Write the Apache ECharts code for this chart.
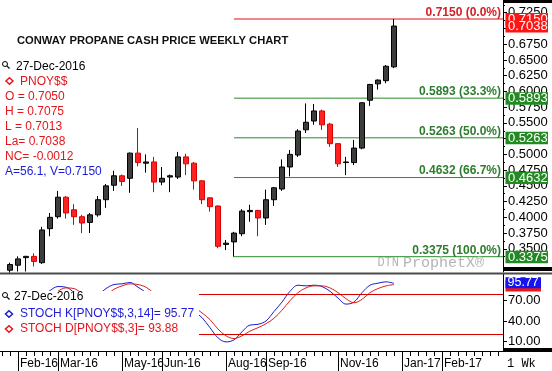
<!DOCTYPE html>
<html><head><meta charset="utf-8">
<script src="https://cdn.jsdelivr.net/npm/echarts@6/dist/echarts.min.js"></script>
<style>html,body{margin:0;padding:0;background:#fff}#c{width:552px;height:371px}</style>
</head><body><div id="c"></div>
<script>
// ---------- data ----------
const weeks = ['2016-01-25','2016-02-01','2016-02-08','2016-02-15','2016-02-22','2016-02-29','2016-03-07','2016-03-14','2016-03-21','2016-03-28','2016-04-04','2016-04-11','2016-04-18','2016-04-25','2016-05-02','2016-05-09','2016-05-16','2016-05-23','2016-05-30','2016-06-06','2016-06-13','2016-06-20','2016-06-27','2016-07-04','2016-07-11','2016-07-18','2016-07-25','2016-08-01','2016-08-08','2016-08-15','2016-08-22','2016-08-29','2016-09-05','2016-09-12','2016-09-19','2016-09-26','2016-10-03','2016-10-10','2016-10-17','2016-10-24','2016-10-31','2016-11-07','2016-11-14','2016-11-21','2016-11-28','2016-12-05','2016-12-12','2016-12-19','2016-12-26'];
const opens  = [0.316,0.324,0.336,0.338,0.328,0.382,0.401,0.432,0.412,0.401,0.392,0.404,0.428,0.451,0.466,0.462,0.502,0.486,0.488,0.456,0.464,0.464,0.496,0.486,0.458,0.431,0.418,0.357,0.361,0.374,0.409,0.411,0.399,0.428,0.445,0.480,0.499,0.539,0.553,0.569,0.548,0.517,0.487,0.487,0.510,0.586,0.612,0.617,0.639];
const closes = [0.325,0.334,0.338,0.330,0.380,0.400,0.432,0.407,0.401,0.391,0.404,0.428,0.450,0.466,0.457,0.502,0.487,0.488,0.456,0.462,0.466,0.496,0.485,0.458,0.428,0.417,0.354,0.359,0.375,0.410,0.411,0.399,0.428,0.447,0.480,0.500,0.537,0.551,0.569,0.547,0.517,0.485,0.488,0.510,0.582,0.611,0.618,0.640,0.7038];
const highs  = [0.328,0.338,0.339,0.343,0.385,0.407,0.442,0.434,0.421,0.404,0.407,0.434,0.453,0.474,0.468,0.503,0.542,0.500,0.496,0.480,0.468,0.504,0.501,0.488,0.459,0.432,0.419,0.364,0.377,0.413,0.420,0.412,0.444,0.448,0.492,0.507,0.540,0.581,0.580,0.571,0.550,0.518,0.496,0.523,0.583,0.612,0.619,0.642,0.7150];
const lows   = [0.312,0.314,0.314,0.322,0.326,0.370,0.398,0.398,0.388,0.375,0.375,0.401,0.415,0.442,0.450,0.439,0.481,0.471,0.440,0.451,0.440,0.461,0.467,0.444,0.421,0.409,0.351,0.348,0.3375,0.370,0.393,0.370,0.388,0.418,0.442,0.465,0.496,0.534,0.547,0.539,0.512,0.480,0.467,0.483,0.508,0.577,0.603,0.613,0.637];
const stochK = [20,35,50,60,75,85,91,90,82,70,68,78,88,94,95,97,90,82,70,62,58,65,70,55,45,30,15,9,12,24,34,35,40,54,68,84,93,92,93,91,84,74,65,68,82,93,96,98,95.77];
const stochD = [15,25,35,48,60,73,84,89,88,81,73,72,78,87,92,95,94,90,81,71,63,62,64,60,52,42,28,18,14,18,25,30,36,44,56,70,82,89,92,92,89,82,73,67,72,82,88,92,93.88];
const fibLevels = [0.7150,0.5893,0.5263,0.4632,0.3375];
const fibPct = ['0.0%','33.3%','50.0%','66.7%','100.0%'];
const fibStartWeek = '2016-08-08';
const priceTicks = [0.3500,0.3750,0.4000,0.4250,0.4500,0.4750,0.5000,0.5250,0.5500,0.5750,0.6000,0.6250,0.6500,0.6750,0.7000,0.7250];
const priceMinorTicks = [0.3375,0.3625,0.3875,0.4125,0.4375,0.4625,0.4875,0.5125,0.5375,0.5625,0.5875,0.6125,0.6375,0.6625,0.6875,0.7125,0.7375];
const stochTicks = [10,40,70];
const stochBands = [80,20];
const monthLabels = ['Feb-16','Mar-16','May-16','Jun-16','Aug-16','Sep-16','Nov-16','Jan-17','Feb-17'];
const monthLabelWeeks = ['2016-02-01','2016-03-07','2016-05-02','2016-06-06','2016-08-01','2016-09-05','2016-11-07','2017-01-02','2017-02-06'];
const lastPrice = 0.7038;
const title = 'CONWAY PROPANE CASH PRICE WEEKLY CHART';
const legendDate = '27-Dec-2016';
const symbolName = 'PNOY$$';
const ohlcLines = ['O = 0.7050','H = 0.7075','L = 0.7013','La= 0.7038','NC= -0.0012'];
const avLine = 'A=56.1, V=0.7150';
const stochKLabel = 'STOCH K[PNOY$$,3,14]= 95.77';
const stochDLabel = 'STOCH D[PNOY$$,3]= 93.88';

// ---------- helpers ----------
const WEEK = 7*864e5;
const wIdx = d => Math.round((Date.parse(d) - Date.parse(weeks[0])) / WEEK);
const X_MIN = -1.25, X_MAX = 61.625;
const weeklyTicks = []; for (let i = -1; i <= 61; i++) weeklyTicks.push(i);
const monthIdx = monthLabelWeeks.map(wIdx);
const fibStart = wIdx(fibStartWeek);

const RED = '#e3161c', BLUE = '#1c1cd6', GREEN_LINE = '#2a8a2a', GREEN_TXT = '#2e7d2e', RED_LINE = '#e01010';
const FONT = '"Liberation Sans", Arial, sans-serif';

const chart = echarts.init(document.getElementById('c'), null, {renderer: 'canvas'});
const candleData = weeks.map((w, i) => [i, opens[i], closes[i], lows[i], highs[i]]);

const fibSeries = fibLevels.map((lv, i) => ({
  type: 'line', name: 'fib' + i, xAxisIndex: 0, yAxisIndex: 0, z: 3,
  data: [[fibStart, lv], [X_MAX, lv]], symbol: 'none', silent: true,
  lineStyle: {color: i === 0 ? RED_LINE : GREEN_LINE, width: 1, type: 'solid'}
}));

const option = {
  animation: false,
  backgroundColor: '#fff',
  grid: [
    {left: 0, top: 0, width: 503, height: 272},
    {left: 0, top: 274, width: 503, height: 77}
  ],
  xAxis: [
    {type: 'value', gridIndex: 0, min: X_MIN, max: X_MAX, show: false, axisLine: {onZero: false}, splitLine: {show: false}},
    {type: 'value', gridIndex: 1, min: X_MIN, max: X_MAX, position: 'bottom',
      axisLine: {show: true, onZero: false, lineStyle: {color: '#000', width: 1}},
      axisTick: {show: true, customValues: weeklyTicks, length: 5, lineStyle: {color: '#000'}},
      axisLabel: {show: false}, splitLine: {show: false}},
    {type: 'value', gridIndex: 1, min: X_MIN, max: X_MAX, position: 'bottom',
      axisLine: {show: false, onZero: false},
      axisTick: {show: true, customValues: monthIdx, length: 20, lineStyle: {color: '#000'}},
      axisLabel: {show: true, customValues: monthIdx, align: 'left', margin: 7, padding: [0,0,0,2],
        fontSize: 12, fontFamily: FONT, color: '#000',
        formatter: v => monthLabels[monthIdx.indexOf(Math.round(v))] || ''},
      splitLine: {show: false}}
  ],
  yAxis: [
    {type: 'value', gridIndex: 0, position: 'right', min: 0.3132, max: 0.7452,
      axisLine: {show: true, onZero: false, lineStyle: {color: '#000'}},
      axisTick: {show: true, customValues: priceTicks, length: 4, lineStyle: {color: '#000'}},
      axisLabel: {customValues: priceTicks, formatter: v => v.toFixed(4), margin: 5, fontSize: 13, fontFamily: FONT, color: '#000'},
      splitLine: {show: false}},
    {type: 'value', gridIndex: 0, position: 'right', min: 0.3132, max: 0.7452,
      axisLine: {show: false, onZero: false},
      axisTick: {show: true, customValues: priceMinorTicks, length: 2, lineStyle: {color: '#000'}},
      axisLabel: {show: false}, splitLine: {show: false}},
    {type: 'value', gridIndex: 1, position: 'right', min: -4.5, max: 109.6,
      axisLine: {show: true, onZero: false, lineStyle: {color: '#000'}},
      axisTick: {show: true, customValues: stochTicks, length: 4, lineStyle: {color: '#000'}},
      axisLabel: {customValues: stochTicks, formatter: v => v.toFixed(2), margin: 5, fontSize: 13, fontFamily: FONT, color: '#000'},
      splitLine: {show: false}}
  ],
  series: [
    {type: 'candlestick', xAxisIndex: 0, yAxisIndex: 0, data: candleData, z: 4,
      dimensions: ['idx','open','close','lowest','highest'],
      encode: {x: 0, y: [1,2,3,4]},
      barWidth: 6,
      itemStyle: {color: '#3d3d3d', color0: '#ff2222', borderColor: '#000', borderColor0: '#d80000', borderWidth: 1}
    },
    ...fibSeries,
    {type: 'line', name: 'K', xAxisIndex: 1, yAxisIndex: 2, data: stochK.map((v, i) => [i, v]),
      symbol: 'none', smooth: 0.35, lineStyle: {color: BLUE, width: 1},
      markLine: {silent: true, symbol: ['none','none'], label: {show: false},
        lineStyle: {color: '#d40000', width: 1, type: 'solid'},
        data: stochBands.map(b => ({yAxis: b}))}},
    {type: 'line', name: 'D', xAxisIndex: 1, yAxisIndex: 2, data: stochD.map((v, i) => [i, v]),
      symbol: 'none', smooth: 0.35, lineStyle: {color: '#e02020', width: 1}}
  ]
};
chart.setOption(option);

// ---------- annotations (positions from the library's scales) ----------
const pMain = (x, y) => chart.convertToPixel({xAxisIndex: 0, yAxisIndex: 0}, [x, y]);
const pLow = (x, y) => chart.convertToPixel({xAxisIndex: 1, yAxisIndex: 2}, [x, y]);
const g = [];
const txt = (text, x, y, fill, font, align, z) => g.push({type: 'text', z: z || 60, silent: true,
  style: {text, x, y, fill, font, textAlign: align || 'left', textVerticalAlign: 'middle'}});
const rect = (x, y, w, h, fill, z) => g.push({type: 'rect', z: z || 55, silent: true, shape: {x, y, width: w, height: h}, style: {fill}});
const mag = (cx, cy) => {
  g.push({type: 'circle', z: 60, silent: true, shape: {cx, cy, r: 2.5}, style: {fill: 'none', stroke: '#000', lineWidth: 1}});
  g.push({type: 'line', z: 60, silent: true, shape: {x1: cx + 1.8, y1: cy + 1.8, x2: cx + 4.5, y2: cy + 4.5}, style: {stroke: '#000', lineWidth: 1.2}});
};
const diamond = (cx, cy, color) => g.push({type: 'polygon', z: 60, silent: true,
  shape: {points: [[cx, cy - 3.2], [cx + 3.5, cy], [cx, cy + 3.2], [cx - 3.5, cy]]}, style: {fill: 'none', stroke: color, lineWidth: 1.5}});

// frame pieces
rect(0, 272.5, 552, 2, '#4a4a4a');
rect(503, 0, 49, 3, '#000');
rect(503, 267, 49, 4, '#000');
rect(0, 351, 552, 1, '#000');
rect(503, 348, 49, 4, '#000');

// title
txt(title, 17, 41, '#111', 'bold 11.2px ' + FONT);

// top-left legend
mag(5, 64);
txt(legendDate, 16, 67, '#000', '12px ' + FONT);
diamond(9.5, 81, RED);
txt(symbolName, 20, 82, RED, '12px ' + FONT);
ohlcLines.forEach((s, i) => txt(s, 5, 97 + 15 * i, RED, '12px ' + FONT));
txt(avLine, 5, 172, BLUE, '12px ' + FONT);

// fib labels + right boxes
fibLevels.forEach((lv, i) => {
  const y = pMain(X_MAX, lv)[1];
  const col = i === 0 ? '#d42026' : GREEN_TXT;
  txt(lv.toFixed(4) + ' (' + fibPct[i] + ')', 501, y - 6.5, col, 'bold 12px ' + FONT, 'right', 58);
  rect(505.5, y - 6, 42.5, 12.5, i === 0 ? '#ff1414' : '#238a23', 70);
  txt(lv.toFixed(4), 508, y + 0.5, '#fff', '13px ' + FONT, 'left', 71);
});
const yl = pMain(X_MAX, lastPrice)[1];
rect(505.5, yl - 5.5, 42.5, 12, '#ff1414', 72);
txt(lastPrice.toFixed(4), 508, yl + 0.5, '#fff', '13px ' + FONT, 'left', 73);

// watermark
txt('ProphetX\u00AE', 403, 263, '#b4b4b4', '15px "Liberation Mono", monospace', 'left', 56);
txt('DTN', 399, 263, '#b4b4b4', '12px "Liberation Mono", monospace', 'right', 56);

// lower panel legend box + texts
rect(0, 291, 199, 60, '#fff', 57);
mag(5, 295);
txt(legendDate, 14, 297, '#000', '12px ' + FONT);
diamond(9, 314, BLUE);
txt(stochKLabel, 20, 314, BLUE, '12px ' + FONT);
diamond(9, 329, RED);
txt(stochDLabel, 20, 329, RED, '12px ' + FONT);

// lower right boxes
const yD = pLow(X_MAX, stochD[stochD.length - 1])[1];
const yK = pLow(X_MAX, stochK[stochK.length - 1])[1];
rect(505.5, yD - 4, 35.5, 11, '#e81616', 70);
rect(505.5, yK - 6, 35.5, 11, '#1414f0', 71);
txt(stochK[stochK.length - 1].toFixed(2), 507.5, yK - 0.5, '#fff', '12.5px ' + FONT, 'left', 72);

// period label
txt('1 Wk', 507, 364, '#000', '12px "Liberation Mono", monospace', 'left', 60);

chart.setOption({graphic: {elements: g}});
</script>
</body></html>
